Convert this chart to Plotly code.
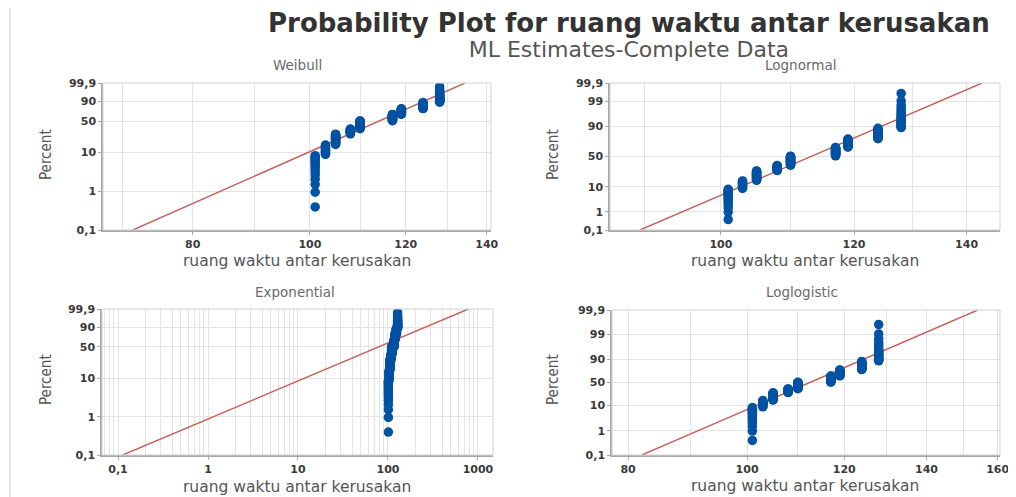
import math
from statistics import NormalDist
import plotly.graph_objects as go

# ---------------- data ----------------
times = [101, 103, 105, 108, 110, 117, 119, 124, 128]      # tied failure-gap values
counts = [15, 12, 21, 14, 27, 25, 21, 20, 20]               # number of observations at each value

# fitted distribution lines: x at 0.1 % and at 99.9 %
line_pct = [0.1, 99.9]
weibull_line_x = [71.4, 134.3]
lognormal_line_x = [89.5, 143.0]
exponential_line_x = [0.113, 780.0]
loglogistic_line_x = [82.1, 154.1]

y_ticks_w = [0.1, 1, 10, 50, 90, 99.9]
y_labels_w = ["0,1", "1", "10", "50", "90", "99,9"]
y_ticks_n = [0.1, 1, 10, 50, 90, 99, 99.9]
y_labels_n = ["0,1", "1", "10", "50", "90", "99", "99,9"]

x_ticks_weib = [80, 100, 120, 140]
x_grid_weib = [70, 80, 90, 100, 110, 120, 130, 140]
x_ticks_logn = [100, 120, 140]
x_grid_logn = [90, 100, 110, 120, 130, 140]
x_ticks_exp = [0.1, 1, 10, 100, 1000]
x_labels_exp = ["0,1", "1", "10", "100", "1000"]
x_ticks_llog = [80, 100, 120, 140, 160]
x_grid_llog = [80, 90, 100, 110, 120, 130, 140, 150, 160]

# ---------------- plotting positions (Bernard median ranks) ----------------
x_all = [t for t, c in zip(times, counts) for _ in range(c)]
n = len(x_all)
pct_all = [(i - 0.3) / (n + 0.4) * 100 for i in range(1, n + 1)]

ND = NormalDist()


def t_weib(p):
    q = p / 100.0
    return math.log(-math.log(1 - q))


def t_norm(p):
    return ND.inv_cdf(p / 100.0)


def t_logit(p):
    q = p / 100.0
    return math.log(q / (1 - q))


BLUE = "#0052a3"
RED = "#c6605a"
TICKC = "#3a3a3a"
GRID = "#e4e4e4"
AXL = "#a8a8a8"

# the page body adds an 8 px margin; the figure fills the rest of the window
OFF = 8
W, H = 1016 - OFF, 497 - OFF


def fx(px):
    return (px - OFF) / W


def fy(py):
    return 1 - (py - OFF) / H


fig = go.Figure()

panels = [
    ("Weibull", t_weib, weibull_line_x, y_ticks_w, y_labels_w,
     [1.829, 2.1496], x_ticks_weib, [str(v) for v in x_ticks_weib], x_grid_weib,
     [fx(103), fx(491)], [fy(230), fy(83)]),
    ("Lognormal", t_norm, lognormal_line_x, y_ticks_n, y_labels_n,
     [1.934, 2.166], x_ticks_logn, [str(v) for v in x_ticks_logn], x_grid_logn,
     [fx(610), fx(1000)], [fy(230), fy(83)]),
    ("Exponential", t_weib, exponential_line_x, y_ticks_w, y_labels_w,
     [-1.178, 3.167], x_ticks_exp, x_labels_exp,
     [m * 10 ** d for d in range(-2, 4) for m in range(2, 10)],
     [fx(102), fx(493)], [fy(455), fy(309)]),
    ("Loglogistic", t_logit, loglogistic_line_x, y_ticks_n, y_labels_n,
     [1.890, 2.206], x_ticks_llog, [str(v) for v in x_ticks_llog], x_grid_llog,
     [fx(612), fx(1000)], [fy(455), fy(310)]),
]

tick_font = dict(family="DejaVu Sans, sans-serif", size=11, color=TICKC, weight=700)

for k, (name, tr, lx, yt, yl, xr, xt, xl, xg, xd, yd) in enumerate(panels, start=1):
    xa = "x" if k == 1 else f"x{k}"
    ya = "y" if k == 1 else f"y{k}"
    fig.add_trace(go.Scatter(
        x=lx, y=[tr(p) for p in line_pct], mode="lines",
        line=dict(color=RED, width=1.4), xaxis=xa, yaxis=ya,
        showlegend=False, hoverinfo="skip"))
    fig.add_trace(go.Scatter(
        x=x_all, y=[tr(p) for p in pct_all], mode="markers",
        marker=dict(color=BLUE, size=9.5, line=dict(width=0)),
        xaxis=xa, yaxis=ya, showlegend=False))

    xkey = "xaxis" if k == 1 else f"xaxis{k}"
    ykey = "yaxis" if k == 1 else f"yaxis{k}"
    fig.update_layout({
        xkey: dict(
            type="log", domain=xd, range=xr, anchor=ya, automargin=False,
            tickmode="array", tickvals=xt, ticktext=xl,
            showgrid=True, gridcolor=GRID, gridwidth=1,
            minor=dict(tickmode="array", tickvals=xg, showgrid=True,
                       gridcolor=GRID, gridwidth=1, ticks=""),
            showline=True, linecolor=AXL, linewidth=1.5,
            ticks="outside", ticklen=3, tickcolor=AXL,
            tickfont=tick_font, zeroline=False, fixedrange=True),
        ykey: dict(
            domain=yd, range=[tr(line_pct[0]), tr(line_pct[1])], anchor=xa,
            automargin=False,
            tickmode="array", tickvals=[tr(p) for p in yt], ticktext=yl,
            showgrid=True, gridcolor=GRID, gridwidth=1,
            showline=True, linecolor=AXL, linewidth=1.5,
            ticks="outside", ticklen=3, tickcolor=AXL,
            tickfont=tick_font, zeroline=False, fixedrange=True),
    })
    fig.add_shape(type="rect", xref=f"{xa} domain", yref=f"{ya} domain",
                  x0=0, x1=1, y0=0, y1=1, line=dict(color="#d2d2d2", width=1),
                  layer="above")


def ann(text, px, py, size, color, family="DejaVu Sans, sans-serif", weight=400, angle=0,
        yanchor="middle"):
    fig.add_annotation(text=text, x=fx(px), y=fy(py), xref="paper", yref="paper",
                       showarrow=False, xanchor="center", yanchor=yanchor,
                       textangle=angle, borderpad=0,
                       font=dict(family=family, size=size, color=color, weight=weight))


title_text = ("<span style='font-size:26px;color:#333333'><b>Probability Plot for ruang waktu "
              "antar kerusakan</b></span><br>"
              "<span style='font-size:22px;color:#555555'>ML Estimates-Complete Data</span>")
ann(title_text, 629, 7, 19, "#333333", yanchor="top")

for name, cx, cy in [("Weibull", 297, 65), ("Lognormal", 800, 65),
                     ("Exponential", 295, 292), ("Loglogistic", 802, 292)]:
    ann(name, cx, cy, 13.5, "#6a6a6a")

for cx, cy in [(297, 261), (805, 261), (297, 487), (805, 486)]:
    ann("ruang waktu antar kerusakan", cx, cy, 15.5, "#555555")

for cx, cy in [(46, 155), (553, 155), (46, 380), (553, 380)]:
    ann("Percent", cx, cy, 15, "#555555",
        family="DejaVu Sans Condensed, Liberation Sans Narrow, sans-serif", angle=-90)

fig.add_shape(type="line", xref="paper", yref="paper", x0=fx(10), x1=fx(10), y0=0, y1=1,
              line=dict(color="#e6e6e6", width=2))

fig.update_layout(
    template="none",
    width=W, height=H, margin=dict(l=0, r=0, t=0, b=0, pad=0, autoexpand=False),
    paper_bgcolor="white", plot_bgcolor="white",
    showlegend=False,
)

fig.write_html("out.html")
